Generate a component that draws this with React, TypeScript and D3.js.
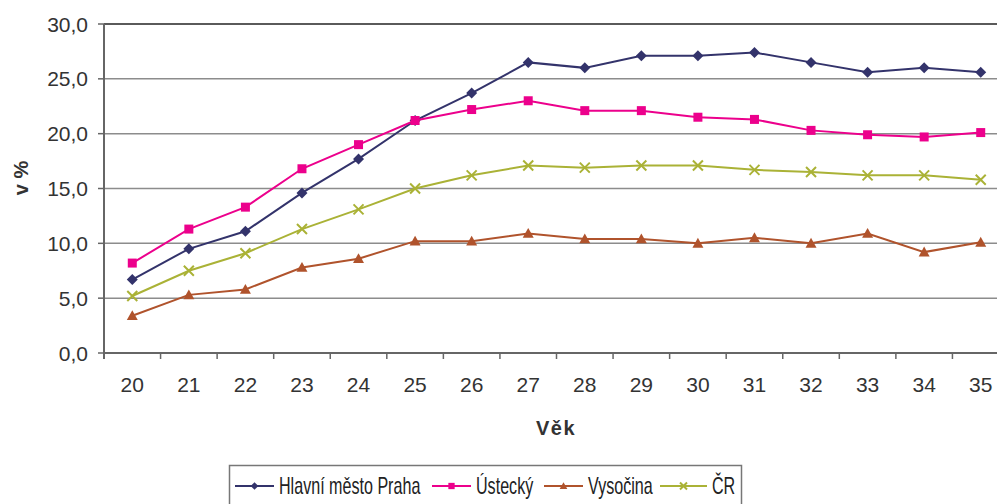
import { useEffect, useRef } from 'react';
import * as d3 from 'd3';

const ages = ['20', '21', '22', '23', '24', '25', '26', '27', '28', '29', '30', '31', '32', '33', '34', '35'];
const praha = [6.7, 9.5, 11.1, 14.6, 17.7, 21.2, 23.7, 26.5, 26.0, 27.1, 27.1, 27.4, 26.5, 25.6, 26.0, 25.6];
const ustecky = [8.2, 11.3, 13.3, 16.8, 19.0, 21.2, 22.2, 23.0, 22.1, 22.1, 21.5, 21.3, 20.3, 19.9, 19.7, 20.1];
const vysocina = [3.4, 5.3, 5.8, 7.8, 8.6, 10.2, 10.2, 10.9, 10.4, 10.4, 10.0, 10.5, 10.0, 10.9, 9.2, 10.1];
const cr = [5.2, 7.5, 9.1, 11.3, 13.1, 15.0, 16.2, 17.1, 16.9, 17.1, 17.1, 16.7, 16.5, 16.2, 16.2, 15.8];
const yTicks = [0, 5, 10, 15, 20, 25, 30];

interface Series {
  name: string;
  values: number[];
  color: string;
  marker: 'diamond' | 'square' | 'triangle' | 'cross';
}

const series: Series[] = [
  { name: 'Hlavní město Praha', values: praha, color: '#33336b', marker: 'diamond' },
  { name: 'Ústecký', values: ustecky, color: '#ec008c', marker: 'square' },
  { name: 'Vysočina', values: vysocina, color: '#b0532c', marker: 'triangle' },
  { name: 'ČR', values: cr, color: '#aab236', marker: 'cross' },
];

const drawMarker = (g: any, s: Series, x: number, y: number, k = 1) => {
  if (s.marker === 'diamond') {
    const r = 5.5 * k;
    g.append('path').attr('d', `M${x},${y - r}L${x + r},${y}L${x},${y + r}L${x - r},${y}Z`).attr('fill', s.color);
  } else if (s.marker === 'square') {
    const r = 4.5 * k;
    g.append('rect').attr('x', x - r).attr('y', y - r).attr('width', 2 * r).attr('height', 2 * r).attr('fill', s.color);
  } else if (s.marker === 'triangle') {
    const r = 5.5 * k;
    g.append('path').attr('d', `M${x},${y - r}L${x + r},${y + r * 0.8}L${x - r},${y + r * 0.8}Z`).attr('fill', s.color);
  } else {
    const r = 5 * k;
    g.append('path').attr('d', `M${x - r},${y - r}L${x + r},${y + r}M${x - r},${y + r}L${x + r},${y - r}`)
      .attr('stroke', s.color).attr('stroke-width', 2).attr('fill', 'none');
  }
};

export default function App() {
  const svgRef = useRef<SVGSVGElement>(null);

  useEffect(() => {
    if (!svgRef.current) return;
    const width = 997;
    const height = 504;
    const left = 104;
    const right = 1009;
    const top = 24;
    const bottom = 353;

    const svg = d3.select(svgRef.current);
    svg.selectAll('*').remove();
    svg.attr('width', width).attr('height', height);

    const x = d3.scaleBand<string>().domain(ages).range([left, right]);
    const y = d3.scaleLinear().domain([0, 30]).range([bottom, top]);
    const fmt = (v: number) => v.toFixed(1).replace('.', ',');
    const font = 'Arial, "Liberation Sans", sans-serif';

    // gridlines
    svg.append('g').selectAll('line').data(yTicks).enter().append('line')
      .attr('x1', left).attr('x2', width).attr('y1', (d) => y(d)).attr('y2', (d) => y(d))
      .attr('stroke', (d) => (d === 30 ? '#5a5a5a' : '#8c8c8c')).attr('stroke-width', (d) => (d === 30 ? 2 : 1.5));

    // y axis
    const ya = svg.append('g');
    ya.append('line').attr('x1', left).attr('x2', left).attr('y1', top).attr('y2', bottom + 6)
      .attr('stroke', '#666').attr('stroke-width', 2);
    ya.selectAll('.t').data(yTicks).enter().append('line')
      .attr('x1', left - 6).attr('x2', left).attr('y1', (d) => y(d)).attr('y2', (d) => y(d))
      .attr('stroke', '#666').attr('stroke-width', 1.5);
    ya.selectAll('text').data(yTicks).enter().append('text')
      .attr('x', 88).attr('y', (d) => y(d)).attr('dy', '0.36em').attr('text-anchor', 'end')
      .style('font-family', font).style('font-size', '21px').style('fill', '#333')
      .text((d) => fmt(d));

    // x axis
    const xa = svg.append('g');
    xa.append('line').attr('x1', left).attr('x2', width).attr('y1', bottom).attr('y2', bottom)
      .attr('stroke', '#666').attr('stroke-width', 2);
    xa.selectAll('.t').data(ages.slice(1)).enter().append('line')
      .attr('x1', (d) => x(d)!).attr('x2', (d) => x(d)!).attr('y1', bottom).attr('y2', bottom + 6)
      .attr('stroke', '#666').attr('stroke-width', 1.5);
    xa.selectAll('text').data(ages).enter().append('text')
      .attr('x', (d) => x(d)! + x.bandwidth() / 2).attr('y', 392).attr('text-anchor', 'middle')
      .style('font-family', font).style('font-size', '21px').style('fill', '#333')
      .text((d) => d);

    // titles
    svg.append('text').attr('x', 556).attr('y', 435).attr('text-anchor', 'middle')
      .style('font-family', font).style('font-size', '20px').style('font-weight', 'bold').style('fill', '#333')
      .style('letter-spacing', '1.5px').text('Věk');
    svg.append('text').attr('transform', 'translate(28,178) rotate(-90)').attr('text-anchor', 'middle')
      .style('font-family', font).style('font-size', '20px').style('font-weight', 'bold').style('fill', '#333')
      .text('v %');

    // lines
    const line = d3.line<number>().x((_, i) => x(ages[i])! + x.bandwidth() / 2).y((d) => y(d));
    series.forEach((s) => {
      const g = svg.append('g');
      g.append('path').attr('d', line(s.values)).attr('fill', 'none').attr('stroke', s.color).attr('stroke-width', 2);
      s.values.forEach((v, i) => drawMarker(g, s, x(ages[i])! + x.bandwidth() / 2, y(v)));
    });

    // legend (condensed text, like the original narrow font)
    const lg = svg.append('g');
    lg.append('rect').attr('x', 229.5).attr('y', 465.5).attr('width', 512).attr('height', 50)
      .attr('fill', 'white').attr('stroke', '#777').attr('stroke-width', 1.5);
    const items = [
      { x0: 235, tx: 279 },
      { x0: 432, tx: 476 },
      { x0: 544, tx: 588 },
      { x0: 660, tx: 712 },
    ];
    series.forEach((s, i) => {
      const it = items[i];
      const ly = 486;
      lg.append('line').attr('x1', it.x0).attr('x2', it.tx - 5).attr('y1', ly).attr('y2', ly)
        .attr('stroke', s.color).attr('stroke-width', 2);
      drawMarker(lg, s, (it.x0 + it.tx - 5) / 2, ly, 0.7);
      lg.append('text').attr('transform', `translate(${it.tx},${ly}) scale(0.7,1)`).attr('dy', '0.36em')
        .style('font-family', font)
        .style('font-size', '23px').style('fill', '#222').text(s.name);
    });
  }, []);

  return (
    <div style={{ position: 'absolute', left: 0, top: 0 }}>
      <svg ref={svgRef} style={{ display: 'block' }} />
    </div>
  );
}
